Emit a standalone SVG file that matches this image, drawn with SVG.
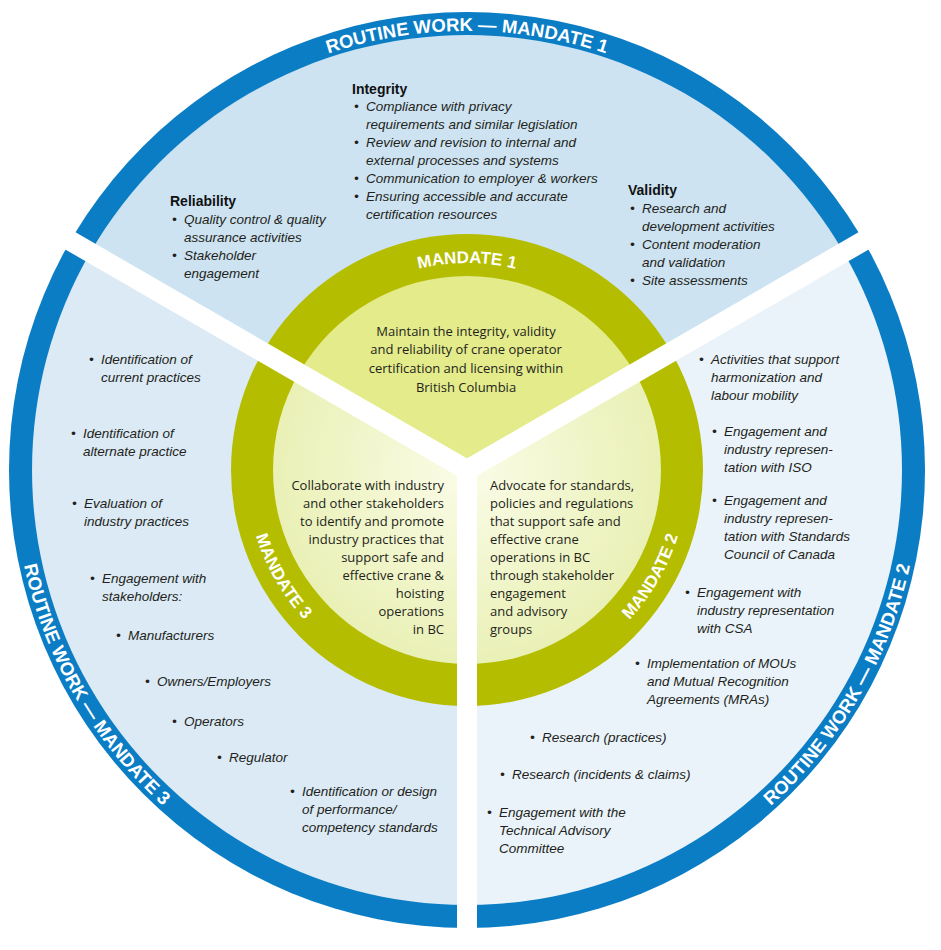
<svg xmlns="http://www.w3.org/2000/svg" width="941" height="950" viewBox="0 0 941 950">
<style>
.b{font-family:"Liberation Sans",Arial,sans-serif;font-style:italic;font-size:13.5px;fill:#231f20}
.h{font-family:"Liberation Sans",Arial,sans-serif;font-weight:bold;font-size:14px;fill:#111}
.c{font-family:"Open Sans","Liberation Sans",sans-serif;font-size:13px;fill:#231f20}
.ow{font-family:"Liberation Sans",Arial,sans-serif;font-weight:bold;font-size:18.5px;fill:#fff}
.iw{font-family:"Liberation Sans",Arial,sans-serif;font-weight:bold;font-size:17px;fill:#fff}
</style>
<defs>
<path id="pOut1" d="M28,470 A439,439 0 0 1 906,470"/>
<path id="pOut2" d="M584.2,907.6 A453,453 0 0 0 904.6,352.8"/>
<path id="pOut3" d="M29.4,352.8 A453,453 0 0 0 349.8,907.6"/>
<path id="pIn1" d="M260,470 A207,207 0 0 1 674,470"/>
<path id="pIn2" d="M524.2,683.5 A221,221 0 0 0 680.5,412.8"/>
<path id="pIn3" d="M253.5,412.8 A221,221 0 0 0 409.8,683.5"/>
<radialGradient id="lg" cx="467" cy="470" r="200" gradientUnits="userSpaceOnUse">
<stop offset="0" stop-color="#fbfce8"/><stop offset="1" stop-color="#e9f0b4"/>
</radialGradient>
</defs>
<rect width="941" height="950" fill="#fff"/>
<g id="outer">
<circle cx="467" cy="470" r="458" fill="#0b7dc5"/>
<path d="M467,470 L90.3,252.5 A435,435 0 0 1 843.7,252.5 Z" fill="#cde3f1"/>
<path d="M467,470 L843.7,252.5 A435,435 0 0 1 467,905 Z" fill="#eaf3fa"/>
<path d="M467,470 L467,905 A435,435 0 0 1 90.3,252.5 Z" fill="#dbeaf5"/>
</g>
<g id="inner">
<circle cx="467" cy="470" r="236" fill="#b4bd00"/>
<path d="M467,470 L299,373 A194,194 0 0 1 635,373 Z" fill="#e4eb8a"/>
<path d="M467,470 L635,373 A194,194 0 0 1 467,664 Z" fill="url(#lg)"/>
<path d="M467,470 L467,664 A194,194 0 0 1 299,373 Z" fill="url(#lg)"/>
</g>
<g id="connectors" stroke="#fff" stroke-width="20">
<line x1="467" y1="470" x2="467" y2="945"/>
<line x1="467" y1="470" x2="55" y2="232"/>
<line x1="467" y1="470" x2="879" y2="232"/>
</g>
<g id="labels">
<text class="ow"><textPath href="#pOut1" startOffset="50%" text-anchor="middle">ROUTINE WORK — MANDATE  1</textPath></text>
<text class="ow"><textPath href="#pOut2" startOffset="50%" text-anchor="middle">ROUTINE WORK — MANDATE  2</textPath></text>
<text class="ow"><textPath href="#pOut3" startOffset="50%" text-anchor="middle">ROUTINE WORK — MANDATE  3</textPath></text>
<text class="iw"><textPath href="#pIn1" startOffset="50%" text-anchor="middle">MANDATE 1</textPath></text>
<text class="iw"><textPath href="#pIn2" startOffset="50%" text-anchor="middle">MANDATE 2</textPath></text>
<text class="iw"><textPath href="#pIn3" startOffset="50%" text-anchor="middle">MANDATE 3</textPath></text>
</g>
<g id="mandate1-center">
<text class="c" text-anchor="middle"><tspan x="466" y="336">Maintain the integrity, validity</tspan><tspan x="466" y="354">and reliability of crane operator</tspan><tspan x="466" y="373">certification and licensing within</tspan><tspan x="466" y="392">British Columbia</tspan></text>
</g>
<g id="mandate3-center">
<text class="c" text-anchor="end"><tspan x="444" y="490">Collaborate with industry</tspan><tspan x="444" y="508">and other stakeholders</tspan><tspan x="444" y="526">to identify and promote</tspan><tspan x="444" y="544">industry practices that</tspan><tspan x="444" y="562">support safe and</tspan><tspan x="444" y="580">effective crane &amp;</tspan><tspan x="444" y="598">hoisting</tspan><tspan x="444" y="616">operations</tspan><tspan x="444" y="634">in BC</tspan></text>
</g>
<g id="mandate2-center">
<text class="c"><tspan x="490" y="490">Advocate for standards,</tspan><tspan x="490" y="508">policies and regulations</tspan><tspan x="490" y="526">that support safe and</tspan><tspan x="490" y="544">effective crane</tspan><tspan x="490" y="562">operations in BC</tspan><tspan x="490" y="580">through stakeholder</tspan><tspan x="490" y="598">engagement</tspan><tspan x="490" y="616">and advisory</tspan><tspan x="490" y="634">groups</tspan></text>
</g>
<g id="routine1">
<text class="h" x="352" y="94">Integrity</text>
<text class="b" x="354" y="111">•</text><text class="b"><tspan x="366" y="111">Compliance with privacy</tspan><tspan x="366" y="129">requirements and similar legislation</tspan></text>
<text class="b" x="354" y="147">•</text><text class="b"><tspan x="366" y="147">Review and revision to internal and</tspan><tspan x="366" y="165">external processes and systems</tspan></text>
<text class="b" x="354" y="183">•</text><text class="b" x="366" y="183">Communication to employer &amp; workers</text>
<text class="b" x="354" y="201">•</text><text class="b"><tspan x="366" y="201">Ensuring accessible and accurate</tspan><tspan x="366" y="219">certification resources</tspan></text>
<text class="h" x="170" y="206">Reliability</text>
<text class="b" x="172" y="224">•</text><text class="b"><tspan x="184" y="224">Quality control &amp; quality</tspan><tspan x="184" y="242">assurance activities</tspan></text>
<text class="b" x="172" y="260">•</text><text class="b"><tspan x="184" y="260">Stakeholder</tspan><tspan x="184" y="278">engagement</tspan></text>
<text class="h" x="628" y="195">Validity</text>
<text class="b" x="630" y="213">•</text><text class="b"><tspan x="642" y="213">Research and</tspan><tspan x="642" y="231">development activities</tspan></text>
<text class="b" x="630" y="249">•</text><text class="b"><tspan x="642" y="249">Content moderation</tspan><tspan x="642" y="267">and validation</tspan></text>
<text class="b" x="630" y="285">•</text><text class="b" x="642" y="285">Site assessments</text>
</g>
<g id="routine3">
<text class="b" x="89" y="364">•</text><text class="b"><tspan x="101" y="364">Identification of</tspan><tspan x="101" y="382">current practices</tspan></text>
<text class="b" x="71" y="438">•</text><text class="b"><tspan x="83" y="438">Identification of</tspan><tspan x="83" y="456">alternate practice</tspan></text>
<text class="b" x="72" y="508">•</text><text class="b"><tspan x="84" y="508">Evaluation of</tspan><tspan x="84" y="526">industry practices</tspan></text>
<text class="b" x="90" y="583">•</text><text class="b"><tspan x="102" y="583">Engagement with</tspan><tspan x="102" y="601">stakeholders:</tspan></text>
<text class="b" x="116" y="640">•</text><text class="b" x="128" y="640">Manufacturers</text>
<text class="b" x="145" y="686">•</text><text class="b" x="157" y="686">Owners/Employers</text>
<text class="b" x="172" y="726">•</text><text class="b" x="184" y="726">Operators</text>
<text class="b" x="217" y="762">•</text><text class="b" x="229" y="762">Regulator</text>
<text class="b" x="290" y="796">•</text><text class="b"><tspan x="302" y="796">Identification or design</tspan><tspan x="302" y="814">of performance/</tspan><tspan x="302" y="832">competency standards</tspan></text>
</g>
<g id="routine2">
<text class="b" x="699" y="364">•</text><text class="b"><tspan x="711" y="364">Activities that support</tspan><tspan x="711" y="382">harmonization and</tspan><tspan x="711" y="400">labour mobility</tspan></text>
<text class="b" x="712" y="436">•</text><text class="b"><tspan x="724" y="436">Engagement and</tspan><tspan x="724" y="454">industry represen-</tspan><tspan x="724" y="472">tation with ISO</tspan></text>
<text class="b" x="712" y="505">•</text><text class="b"><tspan x="724" y="505">Engagement and</tspan><tspan x="724" y="523">industry represen-</tspan><tspan x="724" y="541">tation with Standards</tspan><tspan x="724" y="559">Council of Canada</tspan></text>
<text class="b" x="685" y="597">•</text><text class="b"><tspan x="697" y="597">Engagement with</tspan><tspan x="697" y="615">industry representation</tspan><tspan x="697" y="633">with CSA</tspan></text>
<text class="b" x="635" y="668">•</text><text class="b"><tspan x="647" y="668">Implementation of MOUs</tspan><tspan x="647" y="686">and Mutual Recognition</tspan><tspan x="647" y="704">Agreements (MRAs)</tspan></text>
<text class="b" x="530" y="742">•</text><text class="b" x="542" y="742">Research (practices)</text>
<text class="b" x="500" y="779">•</text><text class="b" x="512" y="779">Research (incidents &amp; claims)</text>
<text class="b" x="487" y="817">•</text><text class="b"><tspan x="499" y="817">Engagement with the</tspan><tspan x="499" y="835">Technical Advisory</tspan><tspan x="499" y="853">Committee</tspan></text>
</g>
</svg>
